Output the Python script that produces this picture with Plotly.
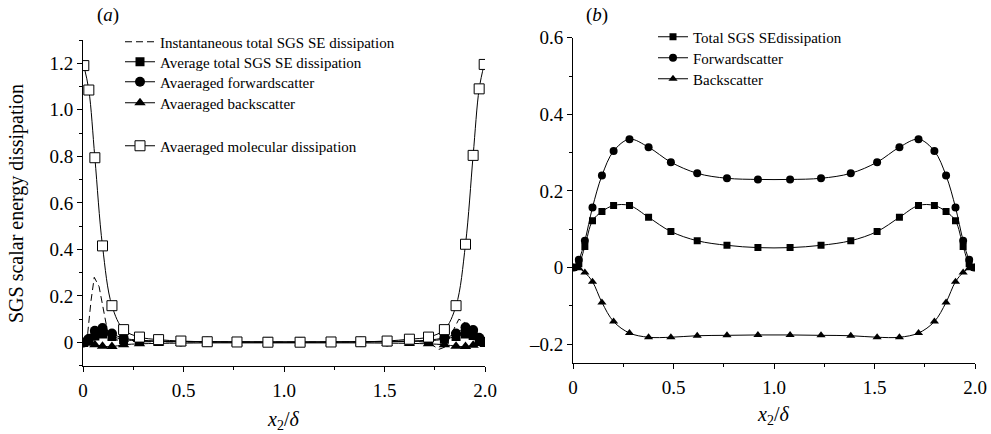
import plotly.graph_objects as go

# ---------------- data ----------------
x_grid = [0.004, 0.029, 0.059, 0.097, 0.144, 0.202, 0.281, 0.376, 0.487, 0.618,
          0.766, 0.920, 1.080, 1.234, 1.382, 1.513, 1.624, 1.719, 1.798, 1.856,
          1.903, 1.941, 1.971, 1.996]

# panel (a)
inst_x = [0.0, 0.02, 0.04, 0.056, 0.08, 0.10, 0.126, 0.16, 0.20, 0.30, 0.50, 0.70,
          0.90, 1.10, 1.30, 1.50, 1.65, 1.72, 1.77, 1.80, 1.84, 1.87, 1.90, 1.94,
          1.97, 2.0]
inst_y = [0.0, 0.01, 0.18, 0.28, 0.24, 0.15, 0.03, 0.012, 0.006, 0.003, 0.002, 0.001,
          0.001, 0.001, 0.002, 0.003, 0.005, 0.0, -0.03, -0.02, 0.05, 0.10, 0.085,
          0.04, 0.01, 0.0]
a_total = [0.0, 0.008, 0.028, 0.036, 0.026, 0.012, 0.007, 0.004, 0.003, 0.002,
           0.002, 0.002, 0.002, 0.002, 0.002, 0.003, 0.004, 0.007, 0.014, 0.026,
           0.036, 0.03, 0.01, 0.0]
a_forward = [0.0, 0.016, 0.05, 0.062, 0.038, 0.018, 0.01, 0.006, 0.004, 0.003,
             0.002, 0.002, 0.002, 0.002, 0.003, 0.004, 0.006, 0.01, 0.02, 0.038,
             0.065, 0.053, 0.02, 0.003]
a_back = [0.0, -0.004, -0.01, -0.016, -0.018, -0.01, -0.006, -0.004, -0.003, -0.002,
          -0.002, -0.002, -0.002, -0.002, -0.002, -0.003, -0.004, -0.006, -0.01,
          -0.016, -0.018, -0.012, -0.005, 0.0]
a_molecular = [1.19, 1.085, 0.794, 0.415, 0.158, 0.055, 0.023, 0.012, 0.006, 0.003,
               0.002, 0.001, 0.001, 0.002, 0.003, 0.006, 0.014, 0.023, 0.055, 0.158,
               0.422, 0.804, 1.09, 1.195]

# panel (b)
b_total = [0.0, 0.01, 0.055, 0.122, 0.146, 0.162, 0.162, 0.131, 0.094, 0.07,
           0.058, 0.052, 0.052, 0.058, 0.07, 0.094, 0.131, 0.162, 0.162, 0.146,
           0.122, 0.055, 0.01, 0.0]
b_forward = [0.0, 0.02, 0.07, 0.157, 0.24, 0.304, 0.335, 0.314, 0.275, 0.246,
             0.233, 0.23, 0.23, 0.233, 0.246, 0.275, 0.314, 0.335, 0.304, 0.24,
             0.157, 0.07, 0.02, 0.0]
b_back = [0.0, -0.002, -0.013, -0.037, -0.091, -0.141, -0.171, -0.182, -0.182, -0.178,
          -0.177, -0.176, -0.176, -0.177, -0.178, -0.182, -0.182, -0.171, -0.141,
          -0.091, -0.037, -0.013, -0.002, 0.0]

x_ticks = [0, 0.5, 1.0, 1.5, 2.0]
x_ticktext = ["0", "0.5", "1.0", "1.5", "2.0"]
a_yticks = [0, 0.2, 0.4, 0.6, 0.8, 1.0, 1.2]
a_yticktext = ["0", "0.2", "0.4", "0.6", "0.8", "1.0", "1.2"]
b_yticks = [-0.2, 0, 0.2, 0.4, 0.6]
b_yticktext = ["\u20130.2", "0", "0.2", "0.4", "0.6"]

# ---------------- figure ----------------
W, H = 991, 434
SERIF = '"Liberation Serif", "Times New Roman", Times, serif'
BLK = "black"


def px_x(p):
    return p / W


def px_y(p):
    return 1 - p / H


fig = go.Figure()

# panel (a) traces
fig.add_trace(go.Scatter(x=inst_x, y=inst_y, mode="lines", name="Instantaneous total SGS SE dissipation",
                         line=dict(color=BLK, width=1, dash="7px,4px"), xaxis="x", yaxis="y",
                         legend="legend"))
fig.add_trace(go.Scatter(x=x_grid, y=a_total, mode="lines+markers", name="Average total SGS SE dissipation",
                         line=dict(color=BLK, width=1, shape="spline"),
                         marker=dict(symbol="square", size=9, color=BLK),
                         xaxis="x", yaxis="y", legend="legend2"))
fig.add_trace(go.Scatter(x=x_grid, y=a_forward, mode="lines+markers", name="Avaeraged forwardscatter",
                         line=dict(color=BLK, width=1, shape="spline"),
                         marker=dict(symbol="circle", size=10, color=BLK),
                         xaxis="x", yaxis="y", legend="legend3"))
fig.add_trace(go.Scatter(x=x_grid, y=a_back, mode="lines+markers", name="Avaeraged backscatter",
                         line=dict(color=BLK, width=1, shape="spline"),
                         marker=dict(symbol="triangle-up", size=10, color=BLK),
                         xaxis="x", yaxis="y", legend="legend4"))
fig.add_trace(go.Scatter(x=x_grid, y=a_molecular, mode="lines+markers", name="Avaeraged molecular dissipation",
                         line=dict(color=BLK, width=1, shape="spline"),
                         marker=dict(symbol="square", size=10, color="white", line=dict(color=BLK, width=1)),
                         xaxis="x", yaxis="y", legend="legend5"))

# panel (b) traces
fig.add_trace(go.Scatter(x=x_grid, y=b_total, mode="lines+markers", name="Total SGS SEdissipation",
                         line=dict(color=BLK, width=1, shape="spline"),
                         marker=dict(symbol="square", size=7, color=BLK),
                         xaxis="x2", yaxis="y2", legend="legend6"))
fig.add_trace(go.Scatter(x=x_grid, y=b_forward, mode="lines+markers", name="Forwardscatter",
                         line=dict(color=BLK, width=1, shape="spline"),
                         marker=dict(symbol="circle", size=8, color=BLK),
                         xaxis="x2", yaxis="y2", legend="legend7"))
fig.add_trace(go.Scatter(x=x_grid, y=b_back, mode="lines+markers", name="Backscatter",
                         line=dict(color=BLK, width=1, shape="spline"),
                         marker=dict(symbol="triangle-up", size=8, color=BLK),
                         xaxis="x2", yaxis="y2", legend="legend8"))

tickfont = dict(family=SERIF, size=19, color=BLK)


def xaxis_cfg(domain, anchor):
    return dict(domain=domain, anchor=anchor, range=[0, 2.0], showgrid=False, zeroline=False,
                automargin=False,
                showline=True, linecolor=BLK, linewidth=1, ticks="outside", ticklen=5,
                tickcolor=BLK, tickwidth=1, tickmode="array", tickvals=x_ticks,
                ticktext=x_ticktext, tickfont=tickfont, ticklabelstandoff=2,
                minor=dict(ticks="outside", ticklen=3, tickcolor=BLK, tickwidth=1,
                           tickmode="linear", tick0=0, dtick=0.25, showgrid=False))


def yaxis_cfg(domain, anchor, rng, vals, text):
    return dict(domain=domain, anchor=anchor, range=rng, showgrid=False, zeroline=False,
                automargin=False,
                showline=True, linecolor=BLK, linewidth=1, ticks="outside", ticklen=5,
                tickcolor=BLK, tickwidth=1, tickmode="array", tickvals=vals,
                ticktext=text, tickfont=tickfont,
                minor=dict(ticks="outside", ticklen=3, tickcolor=BLK, tickwidth=1,
                           tickmode="linear", tick0=0, dtick=0.1, showgrid=False))


def leg(xp, yp):
    return dict(x=px_x(xp), y=px_y(yp), xanchor="left", yanchor="middle",
                bgcolor="rgba(0,0,0,0)", borderwidth=0,
                font=dict(family=SERIF, size=15, color=BLK))


def note(text, xp, yp, size, angle=0):
    return dict(text=text, x=px_x(xp), y=px_y(yp), xref="paper", yref="paper",
                xanchor="center", yanchor="middle", showarrow=False, textangle=angle,
                font=dict(family=SERIF, size=size, color=BLK))


fig.update_layout(
    template="none",
    width=W, height=H, margin=dict(l=0, r=0, t=0, b=0, pad=0),
    paper_bgcolor="white", plot_bgcolor="white",
    font=dict(family=SERIF, color=BLK),
    xaxis=xaxis_cfg([px_x(83), px_x(485)], "y"),
    yaxis=yaxis_cfg([px_y(365.7), px_y(40)], "x", [-0.1, 1.3], a_yticks, a_yticktext),
    xaxis2=xaxis_cfg([px_x(573), px_x(975)], "y2"),
    yaxis2=yaxis_cfg([px_y(363.3), px_y(37.7)], "x2", [-0.25, 0.6], b_yticks, b_yticktext),
    legend=leg(120, 42),
    legend2=leg(120, 62),
    legend3=leg(120, 82),
    legend4=leg(120, 103),
    legend5=leg(120, 146),
    legend6=leg(653, 37),
    legend7=leg(653, 58),
    legend8=leg(653, 79),
    showlegend=True,
    annotations=[
        note("(<i>a</i>)", 108, 15, 19),
        note("(<i>b</i>)", 597, 15, 19),
        note("SGS scalar energy dissipation", 17, 204, 20, -90),
        note("<i>x</i><sub>2</sub>/<i>\u03b4</i>", 283, 420, 20),
        note("<i>x</i><sub>2</sub>/<i>\u03b4</i>", 773, 415, 20),
    ],
)

fig.write_html("out.html")
